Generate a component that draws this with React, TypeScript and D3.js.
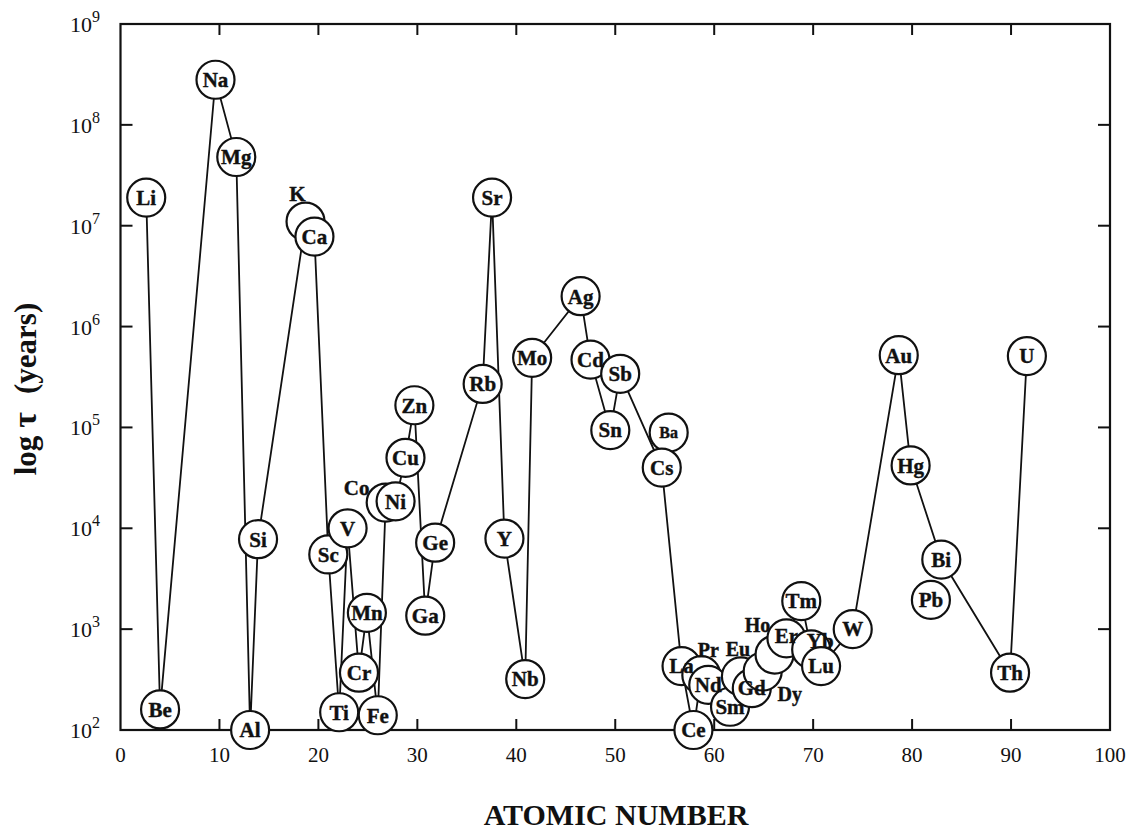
import React from "react";
import * as d3 from "d3";

const WIDTH = 1127;
const HEIGHT = 831;

// Element symbols, in the order they are drawn
const symbols = [
  "Li", "Be", "Na", "Mg", "Al", "Si", "K", "Ca", "Sc", "Ti", "V", "Cr", "Mn", "Fe",
  "Co", "Ni", "Cu", "Zn", "Ga", "Ge", "Rb", "Sr", "Y", "Nb", "Mo", "Ag", "Cd", "Sn",
  "Sb", "Ba", "Cs", "La", "Ce", "Pr", "Nd", "Sm", "Eu", "Gd", "Dy", "Ho", "Er", "Tm",
  "Yb", "Lu", "W", "Au", "Hg", "Pb", "Bi", "Th", "U",
];

// Position of each element along the atomic-number axis
const atomicNumber = [
  2.6, 4.0, 9.6, 11.7, 13.1, 13.9, 18.7, 19.6, 21.0, 22.1, 22.95, 24.1, 24.9, 26.0,
  26.8, 27.8, 28.8, 29.7, 30.8, 31.8, 36.6, 37.55, 38.8, 40.9, 41.6, 46.5, 47.5, 49.5,
  50.5, 55.4, 54.7, 56.7, 57.9, 58.7, 59.4, 61.6, 62.7, 63.8, 64.9, 66.1, 67.3, 68.8,
  69.8, 70.8, 74.0, 78.65, 79.85, 81.9, 82.95, 89.9, 91.6,
];

// Residence time tau in years
const tau = [
  1.9e7, 1.6e2, 2.8e8, 4.8e7, 1.0e2, 7.8e3, 1.1e7, 7.8e6, 5.5e3, 1.5e2, 1.0e4, 3.7e2, 1.45e3, 1.4e2,
  1.8e4, 1.85e4, 5.0e4, 1.66e5, 1.36e3, 7.2e3, 2.7e5, 1.9e7, 7.9e3, 3.2e2, 4.9e5, 2.0e6, 4.7e5, 9.4e4,
  3.4e5, 8.9e4, 4.0e4, 4.3e2, 1.0e2, 3.5e2, 2.8e2, 1.7e2, 3.4e2, 2.6e2, 3.8e2, 5.6e2, 8.1e2, 1.9e3,
  6.3e2, 4.3e2, 1.0e3, 5.2e5, 4.2e4, 1.95e3, 4.9e3, 3.7e2, 5.1e5,
];

// Elements left out of the connecting line
const unconnected = ["Ba", "Pb"];

const xTicks = [0, 10, 20, 30, 40, 50, 60, 70, 80, 90, 100];
const yExponents = [2, 3, 4, 5, 6, 7, 8, 9];

// Labels drawn beside their circle (pixel offsets from the centre)
const labelOffset: Record<string, [number, number]> = {
  K: [-8, -28],
  Co: [-29, -15],
  Pr: [7, -25],
  Eu: [-3, -27],
  Ho: [-17, -30],
  Dy: [27, 22],
  Er: [0, -3],
  Yb: [9, -9],
};
const labelSize: Record<string, number> = { Ba: 16, Pr: 20, Eu: 20, Ho: 20, Dy: 20 };

const FONT = "'Liberation Serif', 'Times New Roman', serif";
const INK = "#111";

export default function App() {
  const left = 120.5;
  const right = 1110;
  const top = 24;
  const bottom = 730;
  const r = 19;

  const x = d3.scaleLinear().domain([0, 100]).range([left, right]);
  const y = d3.scaleLog().domain([1e2, 1e9]).range([bottom, top]);

  const points = symbols.map((s, i) => ({ s, z: atomicNumber[i], v: tau[i] }));
  const linePath = d3
    .line<{ s: string; z: number; v: number }>()
    .x((d) => x(d.z))
    .y((d) => y(d.v))(points.filter((d) => !unconnected.includes(d.s)));

  const innerTicksX = xTicks.filter((t) => t > 0 && t < 100);
  const innerTicksY = yExponents.filter((e) => e > 2 && e < 9);

  return (
    <svg
      width={WIDTH}
      height={HEIGHT}
      viewBox={`0 0 ${WIDTH} ${HEIGHT}`}
      style={{ position: "absolute", left: 0, top: 0, background: "#fff" }}
    >
      <rect x={0} y={0} width={WIDTH} height={HEIGHT} fill="#fff" />

      {/* frame */}
      <rect
        x={left}
        y={top}
        width={right - left}
        height={bottom - top}
        fill="none"
        stroke={INK}
        strokeWidth={2.2}
      />

      {/* inward ticks */}
      <g stroke={INK} strokeWidth={2}>
        {innerTicksX.map((t) => (
          <g key={`xt${t}`}>
            <line x1={x(t)} x2={x(t)} y1={bottom} y2={bottom - 11} />
            <line x1={x(t)} x2={x(t)} y1={top} y2={top + 11} />
          </g>
        ))}
        {innerTicksY.map((e) => (
          <g key={`yt${e}`}>
            <line x1={left} x2={left + 12} y1={y(10 ** e)} y2={y(10 ** e)} />
            <line x1={right} x2={right - 12} y1={y(10 ** e)} y2={y(10 ** e)} />
          </g>
        ))}
      </g>

      {/* x tick labels */}
      <g fontFamily={FONT} fontSize={21} fill={INK} textAnchor="middle">
        {xTicks.map((t) => (
          <text key={`xl${t}`} x={x(t)} y={762}>
            {t}
          </text>
        ))}
      </g>

      {/* y tick labels */}
      <g fontFamily={FONT} fill={INK}>
        {yExponents.map((e) => (
          <text key={`yl${e}`} x={70} y={y(10 ** e) + 8} fontSize={22}>
            10
            <tspan fontSize={16} dy={-10}>
              {e}
            </tspan>
          </text>
        ))}
      </g>

      {/* axis titles */}
      <text
        x={616}
        y={825}
        textAnchor="middle"
        fontFamily={FONT}
        fontWeight="bold"
        fontSize={30}
        fill={INK}
      >
        ATOMIC NUMBER
      </text>
      <text
        transform="translate(36,389) rotate(-90)"
        textAnchor="middle"
        fontFamily={FONT}
        fontWeight="bold"
        fontSize={31}
        fill={INK}
      >
        log
        <tspan dx={8} fontSize={34}>τ</tspan>
        <tspan dx={18}>(years)</tspan>
      </text>

      {/* connecting line */}
      <path d={linePath ?? ""} fill="none" stroke={INK} strokeWidth={1.8} />

      {/* element circles */}
      <g>
        {points.map((d) => (
          <circle
            key={`c${d.s}`}
            cx={x(d.z)}
            cy={y(d.v)}
            r={r}
            fill="#fff"
            stroke={INK}
            strokeWidth={2.2}
          />
        ))}
      </g>

      {/* element labels */}
      <g
        fontFamily={FONT}
        fontWeight="bold"
        fill={INK}
        stroke={INK}
        strokeWidth={0.4}
        textAnchor="middle"
      >
        {points.map((d) => {
          const off = labelOffset[d.s] ?? [0, 0];
          return (
            <text
              key={`t${d.s}`}
              x={x(d.z) + off[0]}
              y={y(d.v) + off[1]}
              dy="0.35em"
              fontSize={labelSize[d.s] ?? 21}
            >
              {d.s}
            </text>
          );
        })}
      </g>
    </svg>
  );
}
